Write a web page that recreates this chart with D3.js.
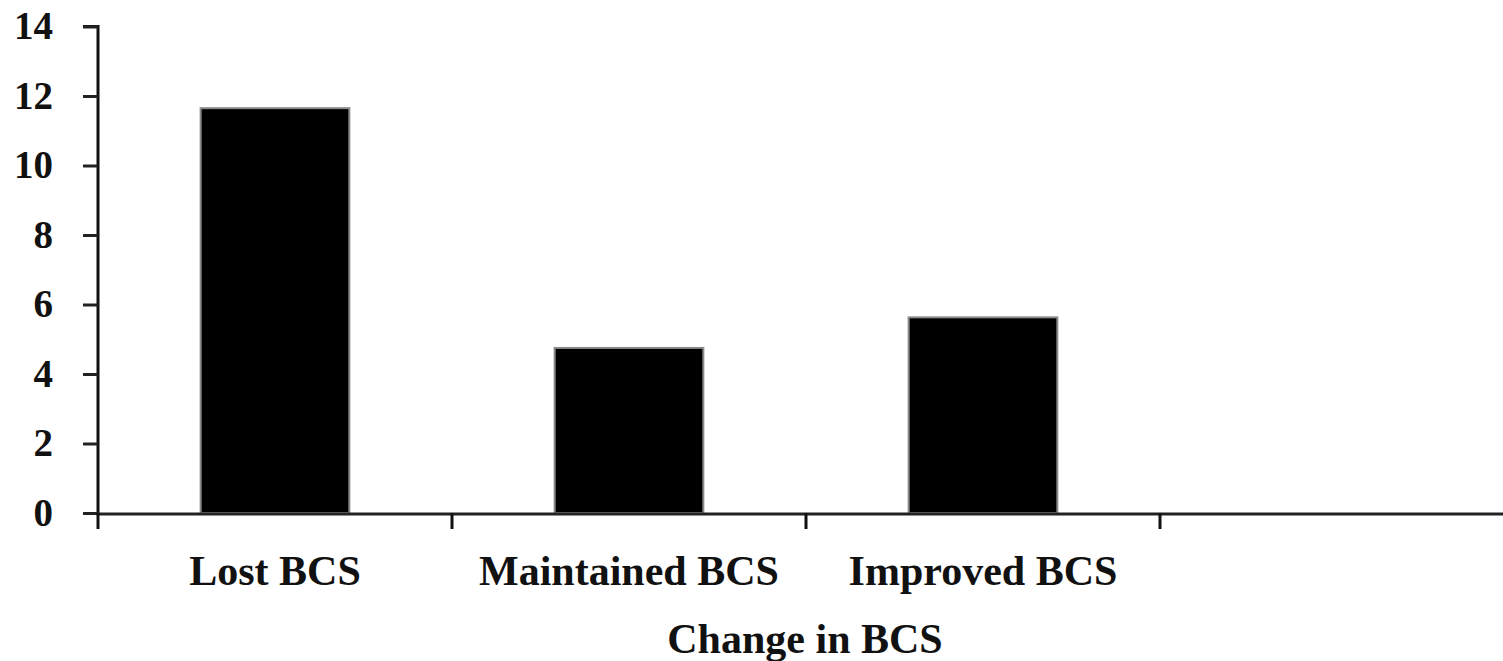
<!DOCTYPE html>
<html><head><meta charset="utf-8">
<script src="https://cdn.jsdelivr.net/npm/d3@7"></script>
<style>html,body{margin:0;padding:0;background:#fff;}svg{display:block;}</style>
</head><body>
<svg id="chart" width="1503" height="661"></svg>
<script>
const categories = ["Lost BCS", "Maintained BCS", "Improved BCS", ""];
const values = [11.65, 4.75, 5.63, null];
const yTicks = [0, 2, 4, 6, 8, 10, 12, 14];
const xTitle = "Change in BCS";

(function () {
const svg = d3.select("#chart");
const mLeft = 98, mRight = 1514, mTop = 26.5, mBottom = 513;
const font = "'Liberation Serif','Times New Roman',serif";

const y = d3.scaleLinear().domain([0, 14]).range([mBottom, mTop]);
const xSlot = d3.scaleBand().domain(categories).range([mLeft, mRight]).padding(0);
const xBar = d3.scaleBand().domain(categories).range([mLeft, mRight]).paddingInner(0.58).paddingOuter(0.29);

// bars
svg.append("g").selectAll("rect")
  .data(categories.map((c, i) => ({c, v: values[i]})).filter(d => d.v != null))
  .join("rect")
  .attr("x", d => xBar(d.c))
  .attr("width", xBar.bandwidth())
  .attr("y", d => y(d.v))
  .attr("height", d => y(0) - y(d.v))
  .attr("fill", "#000")
  .attr("stroke", "#8a8a8a")
  .attr("stroke-width", 2);

// y axis
const yAxis = d3.axisLeft(y).tickValues(yTicks).tickSize(15).tickPadding(30).tickFormat(d3.format("d"));
const gy = svg.append("g").attr("transform", `translate(${mLeft},0)`).call(yAxis);
gy.select(".domain").attr("stroke", "#111").attr("stroke-width", 3).attr("d", `M-15,${mTop}H0V${mBottom}`);
gy.selectAll(".tick line").attr("stroke", "#222").attr("stroke-width", 3);
gy.selectAll(".tick text").attr("font-family", font).attr("font-weight", "bold")
  .attr("font-size", 39).attr("fill", "#111");

// x axis: boundary ticks + category labels
const gx = svg.append("g");
gx.append("line").attr("x1", mLeft - 1.5).attr("x2", 1503).attr("y1", mBottom + 1).attr("y2", mBottom + 1)
  .attr("stroke", "#222").attr("stroke-width", 3);
gx.selectAll("line.tk").data(categories).join("line").attr("class", "tk")
  .attr("x1", d => xSlot(d)).attr("x2", d => xSlot(d))
  .attr("y1", mBottom).attr("y2", mBottom + 16)
  .attr("stroke", "#111").attr("stroke-width", 3);
gx.selectAll("text.lbl").data(categories.filter(c => c !== "")).join("text").attr("class", "lbl")
  .attr("x", d => xSlot(d) + xSlot.bandwidth() / 2)
  .attr("y", 585)
  .attr("text-anchor", "middle")
  .attr("font-family", font).attr("font-weight", "bold").attr("font-size", 42).attr("fill", "#111")
  .text(d => d);

svg.append("text").attr("x", 805).attr("y", 653).attr("text-anchor", "middle")
  .attr("font-family", font).attr("font-weight", "bold").attr("font-size", 42).attr("fill", "#111")
  .text(xTitle);
})();
</script>
</body></html>
